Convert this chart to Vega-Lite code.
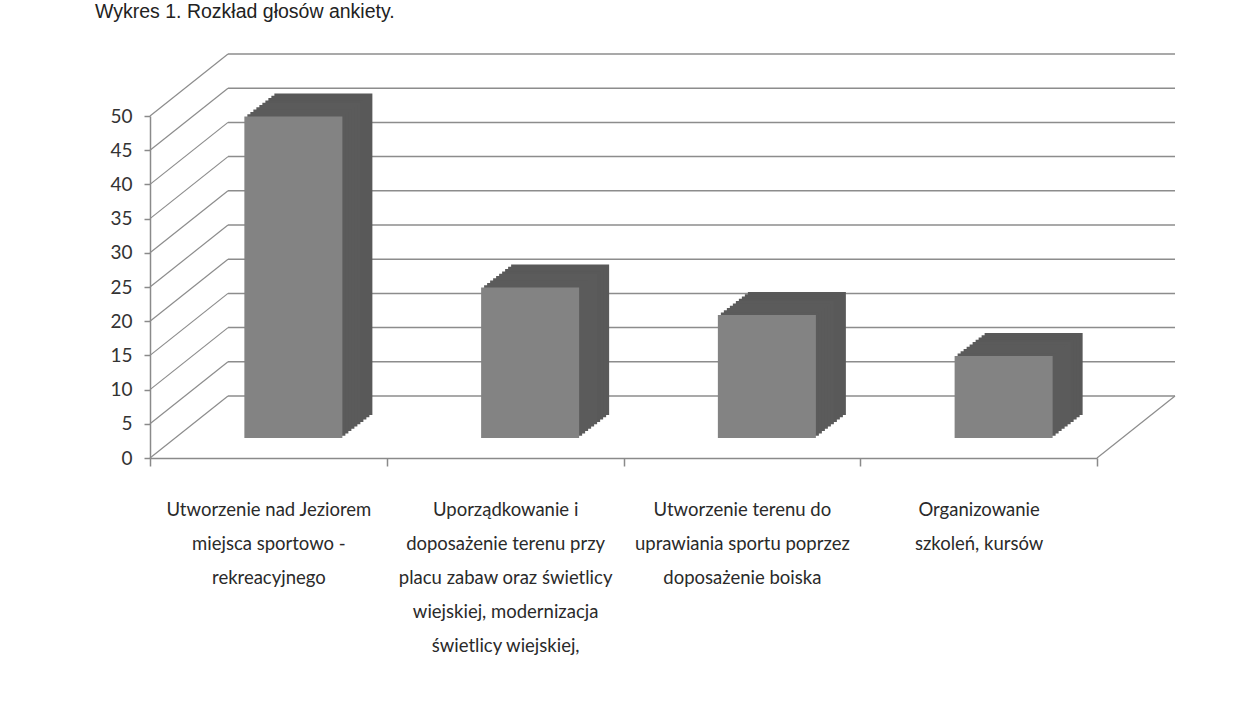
{
  "$schema": "https://vega.github.io/schema/vega-lite/v6.json",
  "width": 947,
  "height": 342,
  "autosize": "none",
  "padding": {"left": 150, "top": 116, "right": 163, "bottom": 252},
  "background": "white",
  "title": {
    "text": "Wykres 1. Rozkład głosów ankiety.",
    "anchor": "start",
    "frame": "group",
    "dx": -55,
    "offset": 31,
    "font": "Liberation Sans",
    "fontSize": 19.5,
    "fontWeight": "normal",
    "color": "#222222"
  },
  "config": {"view": {"stroke": null}},
  "datasets": {
    "bars": [
      {"cat": "Utworzenie nad Jeziorem\nmiejsca sportowo -\nrekreacyjnego", "v": 47},
      {"cat": "Uporządkowanie i\ndoposażenie terenu przy\nplacu zabaw oraz świetlicy\nwiejskiej, modernizacja\nświetlicy wiejskiej,", "v": 22},
      {"cat": "Utworzenie terenu do\nuprawiania sportu poprzez\ndoposażenie boiska", "v": 18},
      {"cat": "Organizowanie\nszkoleń, kursów", "v": 12}
    ],
    "grid": [
      {"v": 0}, {"v": 5}, {"v": 10}, {"v": 15}, {"v": 20}, {"v": 25},
      {"v": 30}, {"v": 35}, {"v": 40}, {"v": 45}, {"v": 50}
    ]
  },
  "encoding": {
    "x": {
      "field": "cat", "type": "nominal", "sort": null,
      "scale": {
        "paddingInner": 0, "paddingOuter": 0,
        "domain": [
          "Utworzenie nad Jeziorem\nmiejsca sportowo -\nrekreacyjnego",
          "Uporządkowanie i\ndoposażenie terenu przy\nplacu zabaw oraz świetlicy\nwiejskiej, modernizacja\nświetlicy wiejskiej,",
          "Utworzenie terenu do\nuprawiania sportu poprzez\ndoposażenie boiska",
          "Organizowanie\nszkoleń, kursów"
        ]
      },
      "axis": {
        "title": null, "labelAngle": 0, "tickBand": "extent",
        "domainColor": "#8a8a8a", "domainWidth": 1.5,
        "tickColor": "#8a8a8a", "tickWidth": 1.5, "tickSize": 8,
        "labelPadding": 34, "labelLineHeight": 34, "labelLimit": 0,
        "labelFont": "Lato", "labelFontSize": 18.5, "labelColor": "#2a2a2a",
        "labelExpr": "split(datum.label, '\\n')"
      }
    },
    "y": {
      "field": "v", "type": "quantitative",
      "scale": {"domain": [0, 50], "nice": false},
      "axis": {
        "title": null, "grid": false, "values": [0,5,10,15,20,25,30,35,40,45,50],
        "domainColor": "#8a8a8a", "domainWidth": 1.5,
        "tickColor": "#8a8a8a", "tickWidth": 1.5, "tickSize": 6,
        "labelPadding": 12, "labelFont": "Lato", "labelFontSize": 19, "labelColor": "#333333"
      }
    }
  },
  "layer": [
    {
      "data": {"name": "grid"},
      "mark": {"type": "rule", "color": "#8c8c8c", "strokeWidth": 1.5, "xOffset": 78, "x2Offset": 78, "yOffset": -62, "y2Offset": -62},
      "encoding": {
        "x": {"datum": "Utworzenie nad Jeziorem\nmiejsca sportowo -\nrekreacyjnego", "bandPosition": 0},
        "x2": {"datum": "Organizowanie\nszkoleń, kursów", "bandPosition": 1},
        "y": {"field": "v", "type": "quantitative"}
      }
    },
    {
      "data": {"name": "grid"},
      "mark": {"type": "rule", "color": "#8c8c8c", "strokeWidth": 1.2, "x2Offset": 78, "y2Offset": -62},
      "encoding": {
        "x": {"datum": "Utworzenie nad Jeziorem\nmiejsca sportowo -\nrekreacyjnego", "bandPosition": 0},
        "x2": {"datum": "Utworzenie nad Jeziorem\nmiejsca sportowo -\nrekreacyjnego", "bandPosition": 0},
        "y": {"field": "v", "type": "quantitative"},
        "y2": {"field": "v"}
      }
    },
    {
      "data": {"name": "grid"},
      "transform": [{"filter": "datum.v == 0"}],
      "mark": {"type": "rule", "color": "#8c8c8c", "strokeWidth": 1.2, "x2Offset": 78, "y2Offset": -62},
      "encoding": {
        "x": {"datum": "Organizowanie\nszkoleń, kursów", "bandPosition": 1},
        "x2": {"datum": "Organizowanie\nszkoleń, kursów", "bandPosition": 1},
        "y": {"field": "v", "type": "quantitative"},
        "y2": {"field": "v"}
      }
    },
    {"data": {"name": "bars"}, "mark": {"type": "bar", "width": {"band": 0.414}, "color": "#595959", "xOffset": 55, "x2Offset": 55, "yOffset": -43, "y2Offset": -43}, "encoding": {"y2": {"datum": 0}}},
    {"data": {"name": "bars"}, "mark": {"type": "bar", "width": {"band": 0.414}, "color": "#595959", "xOffset": 52, "x2Offset": 52, "yOffset": -40.7, "y2Offset": -40.7}, "encoding": {"y2": {"datum": 0}}},
    {"data": {"name": "bars"}, "mark": {"type": "bar", "width": {"band": 0.414}, "color": "#595959", "xOffset": 49, "x2Offset": 49, "yOffset": -38.4, "y2Offset": -38.4}, "encoding": {"y2": {"datum": 0}}},
    {"data": {"name": "bars"}, "mark": {"type": "bar", "width": {"band": 0.414}, "color": "#595959", "xOffset": 46, "x2Offset": 46, "yOffset": -36.1, "y2Offset": -36.1}, "encoding": {"y2": {"datum": 0}}},
    {"data": {"name": "bars"}, "mark": {"type": "bar", "width": {"band": 0.414}, "color": "#5b5b5b", "xOffset": 43, "x2Offset": 43, "yOffset": -33.8, "y2Offset": -33.8}, "encoding": {"y2": {"datum": 0}}},
    {"data": {"name": "bars"}, "mark": {"type": "bar", "width": {"band": 0.414}, "color": "#5b5b5b", "xOffset": 40, "x2Offset": 40, "yOffset": -31.5, "y2Offset": -31.5}, "encoding": {"y2": {"datum": 0}}},
    {"data": {"name": "bars"}, "mark": {"type": "bar", "width": {"band": 0.414}, "color": "#5b5b5b", "xOffset": 37, "x2Offset": 37, "yOffset": -29.2, "y2Offset": -29.2}, "encoding": {"y2": {"datum": 0}}},
    {"data": {"name": "bars"}, "mark": {"type": "bar", "width": {"band": 0.414}, "color": "#5b5b5b", "xOffset": 34, "x2Offset": 34, "yOffset": -26.9, "y2Offset": -26.9}, "encoding": {"y2": {"datum": 0}}},
    {"data": {"name": "bars"}, "mark": {"type": "bar", "width": {"band": 0.414}, "color": "#5b5b5b", "xOffset": 31, "x2Offset": 31, "yOffset": -24.6, "y2Offset": -24.6}, "encoding": {"y2": {"datum": 0}}},
    {"data": {"name": "bars"}, "mark": {"type": "bar", "width": {"band": 0.414}, "color": "#5b5b5b", "xOffset": 28, "x2Offset": 28, "yOffset": -22.3, "y2Offset": -22.3}, "encoding": {"y2": {"datum": 0}}},
    {"data": {"name": "bars"}, "mark": {"type": "bar", "width": {"band": 0.414}, "color": "#838383", "xOffset": 25, "x2Offset": 25, "yOffset": -20, "y2Offset": -20}, "encoding": {"y2": {"datum": 0}}}
  ]
}
